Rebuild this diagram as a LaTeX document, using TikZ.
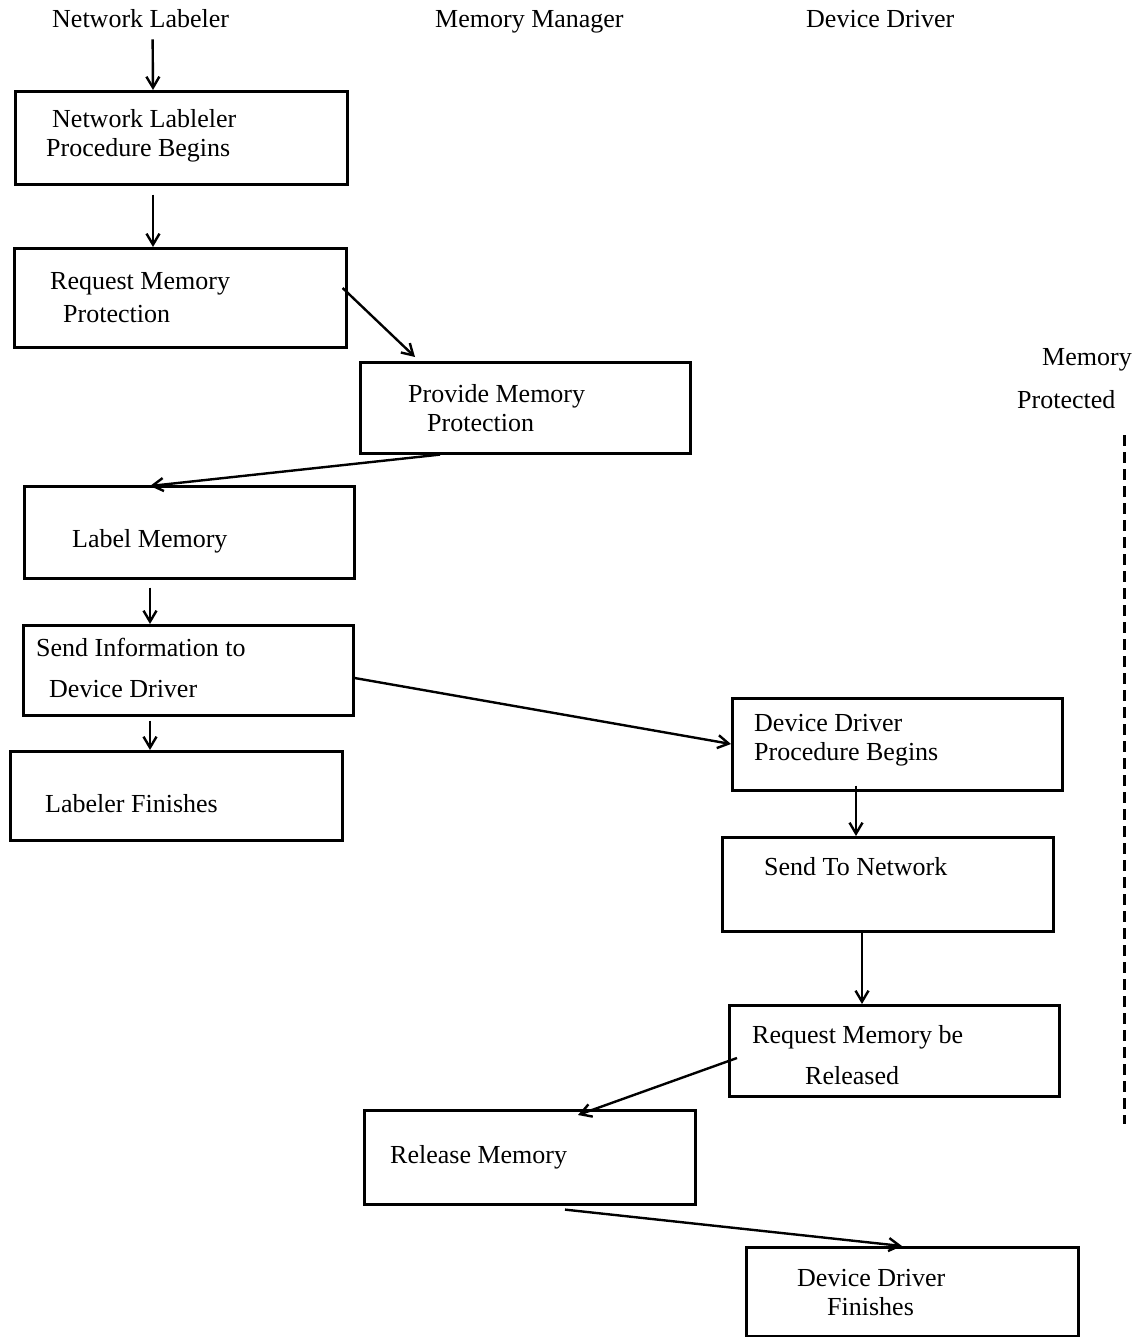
\documentclass[tikz,border=0pt]{standalone}
\usepackage{fontspec}
\setmainfont{Liberation Serif}
\usetikzlibrary{arrows.meta}
\begin{document}
\begin{tikzpicture}[x=1pt,y=-1pt,
  box/.style={draw,line width=2.6pt,inner sep=0pt,anchor=north west},
  txt/.style={anchor=base west,inner sep=0pt,font=\fontsize{26}{30}\selectfont},
  arr/.style={line width=2.4pt,-{Straight Barb[length=11pt,width=13pt,line width=2.4pt]}}]
\useasboundingbox (0,0) rectangle (1140,1337);
% headers
\node[txt] (hNL) at (52,28) {Network Labeler};
\node[txt] (hMM) at (435,28) {Memory Manager};
\node[txt] (hDD) at (806,28) {Device Driver};
\node[txt] (mp1) at (1042,365) {Memory};
\node[txt] (mp2) at (1017,408) {Protected};
% boxes
\node[box,minimum width=332pt,minimum height=93pt] (b1) at (14,90) {};
\node[box,minimum width=332pt,minimum height=99pt] (b2) at (13,247) {};
\node[box,minimum width=330pt,minimum height=91pt] (b3) at (359,361) {};
\node[box,minimum width=330pt,minimum height=92pt] (b4) at (23,485) {};
\node[box,minimum width=330pt,minimum height=90pt] (b5) at (22,624) {};
\node[box,minimum width=332pt,minimum height=89pt] (b6) at (9,750) {};
\node[box,minimum width=330pt,minimum height=92pt] (b7) at (731,697) {};
\node[box,minimum width=331pt,minimum height=94pt] (b8) at (721,836) {};
\node[box,minimum width=330pt,minimum height=91pt] (b9) at (728,1004) {};
\node[box,minimum width=331pt,minimum height=94pt] (b10) at (363,1109) {};
\node[box,minimum width=332pt,minimum height=89pt] (b11) at (745,1246) {};
% box texts
\node[txt] (t1a) at (52,128) {Network Lableler};
\node[txt] (t1b) at (46,157) {Procedure Begins};
\node[txt] (t2a) at (50,290) {Request Memory};
\node[txt] (t2b) at (63,322) {Protection};
\node[txt] (t3a) at (408,402) {Provide Memory};
\node[txt] (t3b) at (427,431) {Protection};
\node[txt] (t4) at (72,547) {Label Memory};
\node[txt] (t5a) at (36,656) {Send Information to};
\node[txt] (t5b) at (49,697) {Device Driver};
\node[txt] (t6) at (45,812) {Labeler Finishes};
\node[txt] (t7a) at (754,731) {Device Driver};
\node[txt] (t7b) at (754,760) {Procedure Begins};
\node[txt] (t8) at (764,875) {Send To Network};
\node[txt] (t9a) at (752,1043) {Request Memory be};
\node[txt] (t9b) at (805,1084) {Released};
\node[txt] (t10) at (390,1163) {Release Memory};
\node[txt] (t11a) at (797,1286) {Device Driver};
\node[txt] (t11b) at (827,1315) {Finishes};
% dashed line
\coordinate (dtop) at (1124,435);
\coordinate (dbot) at (1124,1124);
\draw[line width=3pt,dash pattern=on 11pt off 6pt] (dtop) -- (dbot);
% connectors
\draw[arr] ([xshift=12pt,yshift=-11pt]hNL.south) -- ([xshift=139pt]b1.north west);
\draw[arr] ([xshift=139pt,yshift=-9pt]b1.south west) -- ([xshift=140pt]b2.north west);
\draw[arr] ([xshift=-5pt,yshift=-41pt]b2.north east) -- ([xshift=56pt,yshift=4pt]b3.north west);
\draw[arr] ([xshift=81pt]b3.south west) -- ([xshift=127pt,yshift=-1pt]b4.north west);
\draw[arr] ([xshift=127pt,yshift=-8pt]b4.south west) -- ([xshift=128pt]b5.north west);
\draw[arr] ([xshift=128pt,yshift=-4pt]b5.south west) -- ([xshift=141pt]b6.north west);
\draw[arr] ([yshift=-54pt]b5.north east) -- ([yshift=-47pt]b7.north west);
\draw[arr] ([xshift=125pt,yshift=6pt]b7.south west) -- ([xshift=135pt]b8.north west);
\draw[arr] ([xshift=141pt]b8.south west) -- ([xshift=134pt]b9.north west);
\draw[arr] ([xshift=9pt,yshift=-54pt]b9.north west) -- ([xshift=215pt,yshift=-6pt]b10.north west);
\draw[arr] ([xshift=202pt,yshift=-4pt]b10.south west) -- ([xshift=157pt]b11.north west);
\end{tikzpicture}
\end{document}
